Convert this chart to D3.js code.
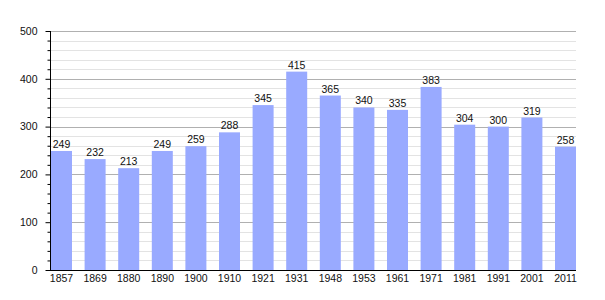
<!DOCTYPE html>
<html>
<head>
<meta charset="utf-8">
<script src="https://cdn.jsdelivr.net/npm/d3@7"></script>
<style>
  body { margin: 0; background: #fff; }
  text { font-family: "Liberation Sans", Arial, sans-serif; }
</style>
</head>
<body>
<script>
const years = ['1857', '1869', '1880', '1890', '1900', '1910', '1921', '1931',
  '1948', '1953', '1961', '1971', '1981', '1991', '2001', '2011'];
const population = [249, 232, 213, 249, 259, 288, 345, 415, 365, 340, 335, 383, 304, 300, 319, 258];
const majorTicks = [0, 100, 200, 300, 400, 500];

const w = 605;
const h = 300;
const plotLeft = 50, plotRight = 576, plotTop = 31, plotBottom = 270;
const fontSize = 10.5;

const svg = d3.select('body')
  .append('svg')
  .attr('width', w)
  .attr('height', h);

const x = d3.scaleBand()
  .domain(years)
  .range([plotLeft + 1, plotRight])
  .paddingInner(0.375)
  .paddingOuter(0);

const y = d3.scaleLinear()
  .domain([0, 500])
  .range([plotBottom, plotTop]);

const minorTicks = d3.range(0, 501, 20).filter(v => v % 100 !== 0);

// minor grid
svg.append('g')
  .selectAll('line')
  .data(minorTicks)
  .enter()
  .append('line')
  .attr('x1', plotLeft)
  .attr('x2', plotRight)
  .attr('y1', d => Math.round(y(d)) + 0.5)
  .attr('y2', d => Math.round(y(d)) + 0.5)
  .attr('stroke', '#e3e3e3');

// major grid
svg.append('g')
  .selectAll('line')
  .data(majorTicks.filter(d => d > 0))
  .enter()
  .append('line')
  .attr('x1', plotLeft)
  .attr('x2', plotRight)
  .attr('y1', d => Math.round(y(d)) + 0.5)
  .attr('y2', d => Math.round(y(d)) + 0.5)
  .attr('stroke', '#b0b0b0');

// bars
svg.append('g')
  .selectAll('rect')
  .data(population)
  .enter()
  .append('rect')
  .attr('x', (d, i) => x(years[i]))
  .attr('y', d => y(d))
  .attr('width', x.bandwidth())
  .attr('height', d => y(0) - y(d))
  .attr('fill', '#99aaff');

// value labels
svg.append('g')
  .selectAll('text')
  .data(population)
  .enter()
  .append('text')
  .attr('x', (d, i) => x(years[i]) + x.bandwidth() / 2)
  .attr('y', d => y(d) - 3)
  .attr('text-anchor', 'middle')
  .attr('font-size', fontSize)
  .attr('fill', '#111')
  .text(d => d);

// y axis
const yAxis = d3.axisLeft(y)
  .tickValues(majorTicks)
  .tickSize(5)
  .tickPadding(8);

const yMinor = d3.axisLeft(y)
  .tickValues(minorTicks)
  .tickSize(3)
  .tickFormat('');

svg.append('g')
  .attr('transform', `translate(${plotLeft + 0.5},0)`)
  .call(yMinor)
  .call(g => g.select('.domain').remove());

svg.append('g')
  .attr('transform', `translate(${plotLeft + 0.5},0)`)
  .call(yAxis)
  .call(g => g.select('.domain').attr('d', `M0,${plotTop}V${plotBottom}`).attr('stroke', '#000'))
  .call(g => g.selectAll('text').attr('font-size', fontSize).attr('fill', '#111').attr('font-family', '"Liberation Sans", Arial, sans-serif'));

// x axis
const xAxis = d3.axisBottom(x).tickSize(0).tickPadding(4);

svg.append('g')
  .attr('transform', `translate(0,${plotBottom + 0.5})`)
  .call(xAxis)
  .call(g => g.select('.domain').attr('d', `M${plotLeft},0H${plotRight}`).attr('stroke', '#000'))
  .call(g => g.selectAll('text').attr('font-size', fontSize).attr('fill', '#111').attr('font-family', '"Liberation Sans", Arial, sans-serif'));
</script>
</body>
</html>
